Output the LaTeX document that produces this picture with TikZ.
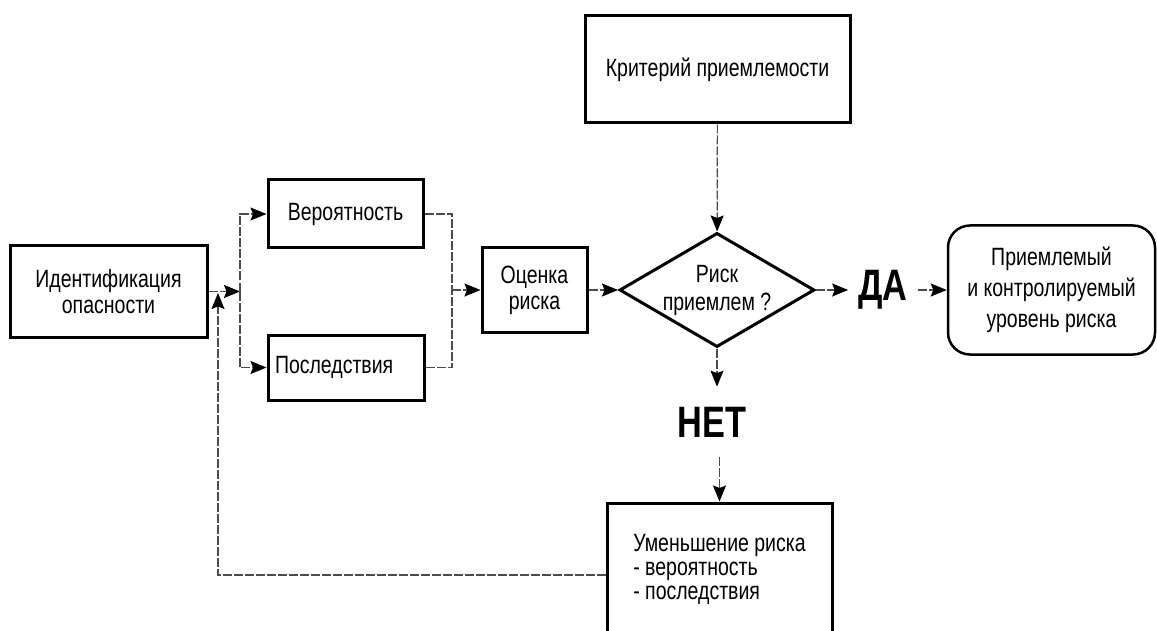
\documentclass[tikz,border=0pt]{standalone}
\usepackage{fontspec}
\setmainfont{Liberation Sans}[FakeStretch=0.78]
\usetikzlibrary{shapes.geometric,arrows.meta}

\tikzset{
  block/.style={draw, line width=3pt, rectangle, inner sep=0pt, align=center,
    font=\fontsize{25}{26}\selectfont},
  decision/.style={draw, line width=3pt, diamond, shape aspect=1.7, inner sep=0pt,
    align=center, font=\fontsize{25}{28}\selectfont},
  goal/.style={block, rounded corners=22pt, line width=2.5pt, font=\fontsize{25}{31}\selectfont},
  answer/.style={font=\fontsize{44}{44}\selectfont\bfseries, inner xsep=10pt, inner ysep=20pt},
  link/.style={line width=1.2pt, black!70, dash pattern=on 9pt off 2pt},
  flow/.style={link, -{Stealth[length=16pt, width=13pt, inset=2.5pt, color=black]}},
}

\begin{document}
\begin{tikzpicture}[x=1pt, y=-1pt]
  \useasboundingbox (0,0) rectangle (1157,631);
  \clip (0,0) rectangle (1157,631);

  % hazard identification
  \node[block, minimum width=197, minimum height=92] (ident) at (108.5,291.5) {Идентификация\\опасности};

  % probability and consequences
  \node[block, minimum width=155, minimum height=68] (prob) at (345.5,214) {Вероятность};
  \node[block, minimum height=65, text width=142, inner xsep=7pt, align=left] (cons) at (346,367.5) {Последствия};

  % risk assessment
  \node[block, minimum width=105, minimum height=84] (assess) at (534.5,290) {Оценка\\риска};

  % criterion and decision
  \node[block, minimum width=265, minimum height=107] (crit) at (717.5,69.5) {Критерий приемлемости};
  \node[decision, minimum width=195, minimum height=114] (check) at (717,290) {Риск\\приемлем ?};

  % yes
  \node[answer] (yes) at (883,290) {ДА};
  \node[goal, minimum width=207, minimum height=129] (accept) at (1051.5,290) {Приемлемый\\и контролируемый\\уровень риска};

  % no
  \node[answer] (no) at (712,422) {НЕТ};
  \node[block, minimum width=225, minimum height=132, align=left, font=\fontsize{25}{24}\selectfont] (reduce) at (719.5,569) {Уменьшение риска\\- вероятность\\- последствия};

  % connectors
  \coordinate (fork) at (240,291.5);
  \coordinate (merge) at (452,290);
  \coordinate (back) at (218,293);

  \draw[flow] (ident) -- (fork);
  \draw[flow] (fork) |- (prob);
  \draw[flow] (fork) |- (cons);
  \draw[link] (prob) -| (merge);
  \draw[link] (cons) -| (merge);
  \draw[flow] (merge) -- (assess);
  \draw[flow] (assess) -- (check);
  \draw[flow] (crit) -- (check);
  \draw[flow] (check) -- (yes);
  \draw[flow] (yes) -- (accept);
  \draw[flow] (check.south) -- (check.south |- no.north);
  \draw[flow] (no.south -| reduce.north) -- (reduce.north);
  \draw[flow] ([yshift=-6pt]reduce.west) -| (back);
\end{tikzpicture}
\end{document}
